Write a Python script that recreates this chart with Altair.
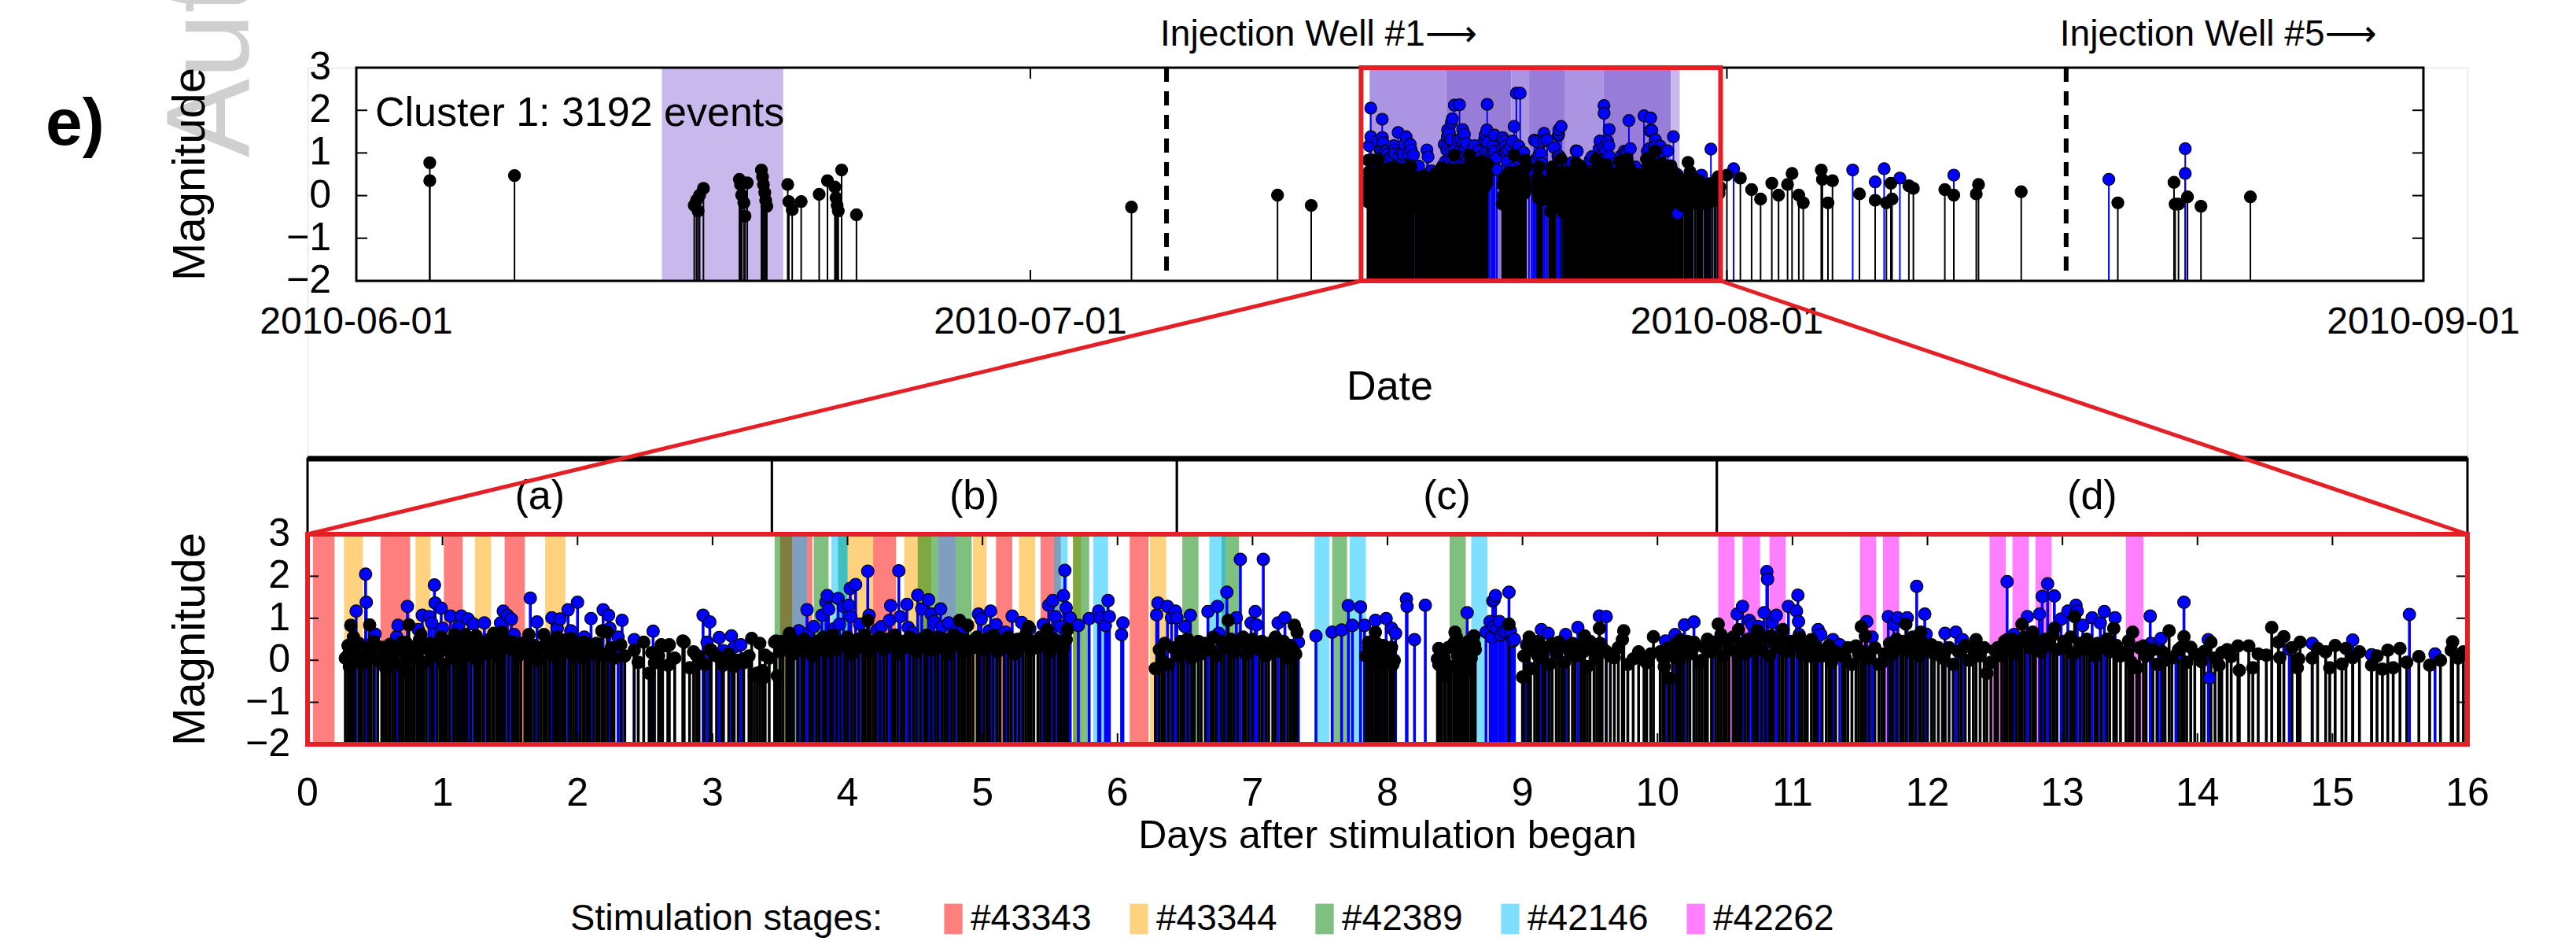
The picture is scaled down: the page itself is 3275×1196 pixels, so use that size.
import altair as alt
import pandas as pd

# ------------------------------------------------------------------ data
TOP_DATE_LABELS = ["2010-06-01", "2010-07-01", "2010-08-01", "2010-09-01"]
STIM_START_DAY = 44.72          # stimulation start, in days after 2010-06-01
ZOOM_SPAN_DAYS = 16
MAG_TICKS = [3, 2, 1, 0, -1, -2]
DAY_TICKS = list(range(0, 17))
CLUSTER_LABEL = "Cluster 1: 3192 events"
WELL_LABELS = ["Injection Well #1\u27f6", "Injection Well #5\u27f6"]
WELL_DAYS = [36.06, 76.10]
TOP_SHADE_START = [13.6, 45.1, 48.5, 51.4, 52.2, 53.8, 55.5, 58.5]
TOP_SHADE_END = [19.0, 48.5, 51.4, 52.2, 53.8, 55.5, 58.5, 58.9]
TOP_SHADE_LEVEL = ["light", "medium", "dark", "medium", "dark", "medium", "dark", "light"]
SEGMENT_LABELS = ["(a)", "(b)", "(c)", "(d)"]
SEGMENT_EDGES = [0, 3.44, 6.44, 10.44, 16]
STAGES = ["#43343", "#43344", "#42389", "#42146", "#42262"]
STAGE_PERIODS = [
    [(0.04, 0.20), (0.54, 0.76), (1.01, 1.15), (1.46, 1.61), (3.50, 3.74), (4.19, 4.36),
     (4.67, 4.80), (5.10, 5.22), (5.43, 5.58), (6.09, 6.23)],
    [(0.27, 0.41), (0.80, 0.91), (1.24, 1.36), (1.76, 1.91), (4.00, 4.19), (4.42, 4.62),
     (4.93, 5.03), (5.27, 5.39), (5.67, 5.73), (6.24, 6.36)],
    [(3.46, 3.59), (3.75, 3.86), (3.93, 4.00), (4.52, 4.67), (4.80, 4.92), (5.67, 5.79),
     (6.48, 6.60), (6.77, 6.90), (7.59, 7.70), (8.46, 8.58)],
    [(3.59, 3.70), (3.88, 4.00), (4.67, 4.80), (5.53, 5.63), (5.82, 5.93), (6.68, 6.80),
     (7.46, 7.57), (7.72, 7.84), (8.62, 8.74)],
    [(10.45, 10.57), (10.63, 10.76), (10.83, 10.95), (11.50, 11.62), (11.67, 11.79),
     (12.46, 12.58), (12.63, 12.75), (12.80, 12.92), (13.47, 13.60)],
]
LEGEND_TITLE = "Stimulation stages:"
X_TITLE_TOP = "Date"
X_TITLE_BOTTOM = "Days after stimulation began"
Y_TITLE = "Magnitude"
PANEL_TAG = "e)"
WATERMARK = "Author Manuscript"

# events (days after stimulation began, magnitude)
BLUE_EVENTS = [
    (0.36, 1.17), (0.43, 2.05), (0.435, 1.38), (0.50, 0.62), (0.66, 0.56), (0.67, 0.83), (0.74, 1.28),
    (0.82, 0.73), (0.85, 1.07), (0.90, 1.04), (0.92, 0.89), (0.94, 1.79), (0.945, 1.36), (0.99, 1.24),
    (1.00, 0.76), (1.06, 1.05), (1.12, 0.80), (1.14, 1.05), (1.19, 0.98), (1.23, 0.86), (1.31, 0.89),
    (1.43, 0.89), (1.45, 1.17), (1.48, 1.07), (1.51, 0.98), (1.53, 0.61), (1.65, 1.48), (1.70, 0.91),
    (1.81, 1.01), (1.85, 0.76), (1.87, 0.98), (1.93, 1.20), (1.95, 0.70), (2.00, 1.38), (2.05, 0.55),
    (2.10, 0.99), (2.19, 1.20), (2.23, 1.07), (2.24, 0.76), (2.30, 0.55), (2.33, 0.95), (2.42, 0.49),
    (2.56, 0.69), (2.93, 1.07), (2.96, 0.43), (2.98, 0.91), (3.05, 0.54), (3.08, 0.23), (3.14, 0.58),
    (3.16, 0.31),
    (3.21, 0.37), (3.64, 0.70), (3.70, 1.20), (3.71, 0.64), (3.75, 0.80), (3.81, 1.07), (3.84, 1.38),
    (3.85, 1.54), (3.86, 1.21), (3.90, 0.75), (3.93, 1.47), (3.94, 0.86), (3.97, 1.28), (4.01, 1.31),
    (4.02, 1.71), (4.025, 1.04), (4.06, 1.80), (4.09, 0.86), (4.15, 2.12), (4.16, 1.07), (4.22, 0.72),
    (4.25, 0.80), (4.31, 0.95), (4.32, 1.30), (4.38, 2.13), (4.39, 1.04), (4.44, 1.33), (4.45, 0.78),
    (4.48, 0.66), (4.52, 1.55), (4.55, 1.22), (4.60, 1.44), (4.62, 1.10), (4.64, 0.92), (4.69, 1.22),
    (4.70, 0.80), (4.75, 0.89), (4.80, 0.68), (4.85, 0.72), (4.97, 1.10), (4.99, 0.98), (5.05, 0.70),
    (5.06, 1.17), (5.10, 0.85), (5.17, 0.67), (5.22, 1.05), (5.25, 0.49), (5.29, 0.90), (5.35, 0.75),
    (5.45, 0.85), (5.49, 1.31), (5.52, 1.42), (5.54, 1.04), (5.58, 0.80), (5.60, 1.54), (5.61, 2.14),
    (5.62, 1.25), (5.65, 1.01), (5.71, 0.83), (5.79, 0.99), (5.86, 1.17), (5.87, 1.01), (5.91, 0.83),
    (5.93, 1.42), (5.94, 1.04), (6.03, 0.61), (6.04, 0.89), (6.29, 1.08), (6.30, 1.36), (6.37, 1.28),
    (6.40, 1.01),
    (6.43, 1.17), (6.44, 1.01), (6.50, 0.80), (6.54, 1.07), (6.67, 1.16), (6.74, 1.28), (6.75, 0.64),
    (6.81, 1.62), (6.88, 1.01), (6.91, 2.40), (6.99, 0.89), (7.02, 1.16), (7.03, 0.84), (7.08, 2.40),
    (7.19, 0.89), (7.24, 1.01), (7.34, 0.43), (7.47, 0.58), (7.59, 0.67), (7.66, 0.72), (7.71, 1.30),
    (7.74, 0.83), (7.80, 1.27), (7.83, 0.83), (7.91, 0.95), (7.99, 0.99), (8.03, 0.76), (8.06, 0.64),
    (8.14, 1.46), (8.145, 1.28), (8.20, 0.49), (8.28, 1.31), (8.59, 1.13), (8.73, 0.67), (8.76, 0.92),
    (8.77, 0.55), (8.78, 1.41), (8.785, 0.80), (8.79, 1.44), (8.80, 1.54), (8.81, 0.75), (8.83, 0.92),
    (8.84, 0.60), (8.86, 0.67), (8.88, 0.70), (8.90, 1.62), (8.91, 0.70), (8.93, 0.46), (8.94, 0.50),
    (9.03, 0.37), (9.14, 0.73), (9.19, 0.64), (9.32, 0.61), (9.41, 0.78), (9.57, 1.05),
    (9.62, 1.04), (10.06, 0.46), (10.13, 0.61), (10.20, 0.84), (10.27, 0.91), (10.41, 0.43),
    (10.59, 1.10), (10.63, 1.28), (10.68, 0.95), (10.70, 0.85), (10.75, 0.80), (10.79, 1.13),
    (10.81, 2.11), (10.815, 1.93), (10.85, 0.90), (10.88, 1.07), (10.97, 1.28), (11.03, 1.17),
    (11.04, 1.55), (11.045, 0.92), (11.05, 0.61), (11.19, 0.73), (11.21, 0.61), (11.30, 0.49),
    (11.35, 0.37), (11.55, 0.92), (11.59, 0.55), (11.71, 1.04), (11.75, 0.85), (11.78, 1.01),
    (11.85, 1.01), (11.92, 1.76), (11.98, 1.10), (11.99, 0.62), (12.13, 0.64), (12.21, 0.67),
    (12.26, 0.49), (12.59, 1.87), (12.64, 0.61), (12.74, 1.04),
    (12.83, 1.10), (12.85, 1.52), (12.89, 1.82), (12.94, 1.53), (12.99, 0.98), (13.04, 1.17),
    (13.10, 1.31), (13.11, 1.17), (13.15, 0.83), (13.22, 1.01), (13.28, 0.89), (13.31, 1.16),
    (13.39, 1.01), (13.65, 1.05), (13.655, 0.40), (13.71, 0.37), (13.73, 0.52), (13.84, 0.12),
    (13.90, 1.38), (14.08, 0.49), (14.09, -0.42), (14.68, 0.26), (14.85, 0.40), (15.15, 0.48),
    (15.29, 0.13), (15.57, 1.09), (15.76, 0.15),
]

BLACK_EVENTS = [
    # days 0 - 3.5
    (0.28, 0.05), (0.30, 0.12), (0.30, 0.35), (0.31, 0.28), (0.31, -0.15), (0.32, 0.83), (0.33, -0.10),
    (0.34, 0.55), (0.35, 0.20), (0.38, 0.40), (0.40, 0.10), (0.42, -0.05), (0.45, 0.30), (0.46, 0.84),
    (0.47, 0.15), (0.49, 0.45), (0.52, 0.00), (0.55, 0.31), (0.56, 0.25), (0.58, 0.00), (0.58, -0.20),
    (0.60, 0.31), (0.61, 0.38), (0.63, 0.10), (0.65, 0.30), (0.68, -0.10), (0.70, 0.43), (0.70, -0.12),
    (0.71, 0.20), (0.73, 0.42), (0.75, 0.84), (0.75, -0.31), (0.77, 0.05), (0.79, 0.32), (0.81, 0.15),
    (0.83, 0.50), (0.84, 0.61), (0.86, -0.05), (0.88, 0.28), (0.91, 0.40), (0.93, 0.10), (0.96, 0.35),
    (0.98, 0.20), (0.99, 0.55), (1.01, -0.10), (1.03, 0.45), (1.05, 0.30), (1.08, 0.05), (1.09, 0.61),
    (1.11, 0.38), (1.13, 0.22), (1.15, 0.48), (1.17, 0.61), (1.18, 0.10), (1.21, 0.35), (1.24, 0.25),
    (1.25, 0.58), (1.26, 0.00), (1.28, 0.42), (1.30, 0.30), (1.33, 0.15), (1.35, 0.50), (1.37, 0.20),
    (1.38, 0.64), (1.40, 0.38), (1.42, 0.05), (1.44, 0.67), (1.46, 0.30), (1.49, 0.45), (1.52, 0.43),
    (1.54, 0.20), (1.56, 0.10), (1.58, 0.40), (1.61, 0.28), (1.63, 0.48), (1.64, 0.61), (1.66, 0.15),
    (1.68, 0.35), (1.71, 0.00), (1.73, 0.30), (1.75, 0.61), (1.77, 0.45), (1.79, 0.22), (1.82, 0.10),
    (1.84, 0.40), (1.85, 0.55), (1.87, 0.30), (1.89, 0.48), (1.91, 0.20), (1.94, 0.35), (1.95, 0.52),
    (1.97, 0.10), (1.99, 0.42), (2.02, 0.25), (2.04, 0.05), (2.05, 0.43), (2.07, 0.38), (2.09, 0.30),
    (2.12, 0.15), (2.14, 0.40), (2.16, 0.20), (2.18, 0.70), (2.20, 0.10), (2.22, 0.67), (2.25, 0.30),
    (2.27, 0.05), (2.32, 0.37), (2.35, 0.10), (2.42, 0.24), (2.45, -0.05), (2.49, 0.43), (2.53, -0.31),
    (2.55, 0.18), (2.57, -0.06), (2.60, 0.10), (2.62, 0.37), (2.63, 0.34), (2.67, 0.34), (2.67, -0.12),
    (2.68, 0.37), (2.72, 0.05), (2.78, 0.46), (2.79, 0.43), (2.83, -0.18), (2.86, 0.20), (2.88, 0.12),
    (2.90, 0.09), (2.94, -0.10), (2.98, 0.25), (2.99, 0.24), (3.03, 0.10), (3.07, -0.06), (3.08, -0.12),
    (3.12, 0.15), (3.15, -0.06), (3.16, -0.15), (3.19, 0.00), (3.23, 0.03), (3.23, -0.06), (3.27, 0.10),
    (3.29, 0.52), (3.31, -0.37), (3.33, -0.31), (3.35, 0.40), (3.37, -0.25), (3.37, -0.43), (3.39, 0.12),
    (3.42, 0.05), (3.46, 0.43), (3.47, 0.46), (3.48, -0.37),
    # days 3.5 - 6.4
    (3.50, 0.20), (3.52, 0.45), (3.55, 0.30), (3.57, 0.64), (3.58, 0.55), (3.60, 0.15), (3.63, 0.40),
    (3.66, 0.25), (3.68, 0.50), (3.72, 0.35), (3.74, 0.10), (3.77, 0.45), (3.79, 0.30), (3.82, 0.55),
    (3.84, 0.20), (3.87, 0.40), (3.89, 0.60), (3.92, 0.25), (3.95, 0.45), (3.98, 0.35), (4.00, 0.55),
    (4.03, 0.15), (4.05, 0.40), (4.08, 0.50), (4.11, 0.30), (4.13, 0.60), (4.15, 0.95), (4.17, 0.20),
    (4.19, 0.45), (4.21, 0.35), (4.24, 0.55), (4.27, 0.25), (4.29, 0.50), (4.33, 0.40), (4.35, 0.60),
    (4.37, 0.15), (4.40, 0.45), (4.42, 0.30), (4.46, 0.55), (4.49, 0.40), (4.51, 0.20), (4.54, 0.50),
    (4.57, 0.35), (4.59, 0.60), (4.62, 0.25), (4.65, 0.45), (4.67, 0.55), (4.70, 0.30), (4.72, 0.50),
    (4.74, 0.15), (4.77, 0.40), (4.79, 0.60), (4.82, 0.35), (4.83, 0.95), (4.85, 0.50), (4.87, 0.20),
    (4.89, 0.83), (4.91, 0.45), (4.93, 0.30), (4.96, 0.55), (4.98, 0.40), (5.01, 0.25), (5.03, 0.50),
    (5.05, 0.35), (5.08, 0.60), (5.11, 0.20), (5.13, 0.45), (5.16, 0.30), (5.19, 0.55), (5.21, 0.40),
    (5.24, 0.15), (5.27, 0.50), (5.30, 0.35), (5.32, 0.60), (5.34, 0.80), (5.36, 0.25), (5.38, 0.45),
    (5.41, 0.30), (5.43, 0.55), (5.46, 0.40), (5.48, 0.73), (5.50, 0.20), (5.53, 0.50), (5.56, 0.35),
    (5.58, 0.45), (5.60, 0.30), (5.62, 0.49), (5.63, 0.73),
    # days 6.3 - 9.0
    (6.28, -0.20), (6.31, 0.25), (6.33, 0.00), (6.35, 0.40), (6.38, -0.10), (6.41, 0.30), (6.45, 0.10),
    (6.47, 0.45), (6.49, 0.20), (6.52, 0.50), (6.55, 0.05), (6.57, 0.35), (6.60, 0.45), (6.62, 0.15),
    (6.65, 0.40), (6.69, 0.25), (6.71, 0.55), (6.73, 0.10), (6.77, 0.45), (6.79, 0.30), (6.82, 0.95),
    (6.84, 0.50), (6.86, 0.20), (6.89, 0.40), (6.93, 0.55), (6.95, 0.15), (6.97, 0.35), (7.00, 0.50),
    (7.05, 0.25), (7.07, 0.45), (7.10, 0.10), (7.12, 0.40), (7.15, 0.30), (7.17, 0.55), (7.21, 0.20),
    (7.23, 0.45), (7.26, 0.05), (7.28, 0.35), (7.30, 0.25), (7.31, 0.83), (7.32, 0.15), (7.33, 0.67),
    (7.84, 0.10), (7.86, 0.43), (7.86, 0.30), (7.88, 0.18), (7.89, -0.05), (7.91, 0.67), (7.92, 0.40),
    (7.94, -0.06), (7.95, 0.15), (7.97, 0.35), (7.98, 0.24), (8.00, 0.05), (8.02, 0.25), (8.03, 0.31),
    (8.04, -0.10), (8.05, 0.00),
    (8.37, 0.03), (8.38, 0.28), (8.38, -0.10), (8.40, 0.20), (8.42, 0.05), (8.43, -0.37), (8.45, 0.30),
    (8.47, -0.15), (8.49, 0.40), (8.50, 0.67), (8.51, 0.55), (8.52, 0.10), (8.54, 0.06), (8.55, 0.35),
    (8.57, 0.20), (8.58, -0.06), (8.59, -0.28), (8.60, 0.45), (8.62, 0.05), (8.64, 0.58), (8.645, 0.37),
    (8.65, 0.25), (8.90, 0.86),
    # days 9.0 - 12.8
    (9.00, -0.40), (9.01, 0.10), (9.04, 0.35), (9.05, 0.55), (9.06, -0.20), (9.09, 0.25), (9.11, 0.12),
    (9.12, 0.45), (9.15, 0.05), (9.17, 0.30), (9.20, -0.10), (9.22, 0.40), (9.25, 0.15), (9.27, 0.43),
    (9.29, 0.30), (9.31, -0.05), (9.34, 0.25), (9.37, 0.40), (9.39, 0.10), (9.43, 0.35), (9.45, 0.20),
    (9.46, 0.58), (9.48, -0.15), (9.50, 0.45), (9.53, 0.25), (9.55, 0.05), (9.57, 0.76), (9.575, 0.40),
    (9.59, 0.30), (9.62, 0.21), (9.65, 0.10), (9.68, 0.06), (9.71, 0.30), (9.74, 0.49), (9.75, 0.70),
    (9.78, -0.10), (9.82, 0.03), (9.86, 0.20), (9.90, 0.00), (9.92, -0.06), (9.95, 0.15), (9.97, 0.56),
    (10.02, 0.20), (10.04, 0.06), (10.05, -0.15), (10.08, 0.30), (10.09, -0.43), (10.11, 0.10),
    (10.14, 0.40), (10.16, 0.00), (10.17, 0.49), (10.19, 0.25), (10.22, 0.45), (10.24, 0.15),
    (10.27, 0.43), (10.29, 0.35), (10.31, -0.05), (10.33, 0.00), (10.35, 0.30), (10.37, 0.50),
    (10.40, 0.20), (10.43, 0.40), (10.45, 0.86), (10.47, 0.61), (10.49, 0.10), (10.51, 0.45),
    (10.53, 0.30), (10.56, 0.55), (10.58, 0.20), (10.60, 0.73), (10.62, 0.40), (10.65, 0.15),
    (10.67, 0.50), (10.71, 0.30), (10.73, 0.45), (10.74, 0.70), (10.77, 0.25), (10.80, 0.55),
    (10.83, 0.10), (10.84, 0.58), (10.86, 0.40), (10.90, 0.30), (10.92, 0.50), (10.93, 0.73),
    (10.95, 0.20), (10.99, 0.45), (11.01, 0.35), (11.05, 0.55), (11.07, 0.15), (11.09, 0.40),
    (11.11, 0.25), (11.14, 0.49), (11.16, 0.05), (11.18, 0.30), (11.22, 0.10), (11.25, 0.24),
    (11.27, 0.35), (11.29, -0.05), (11.32, 0.20), (11.37, 0.10), (11.39, 0.06), (11.41, 0.30),
    (11.44, -0.10), (11.47, 0.34), (11.49, 0.15), (11.51, 0.80), (11.53, 0.20), (11.54, 0.58),
    (11.57, 0.05), (11.61, 0.30), (11.64, -0.10), (11.66, -0.06), (11.68, 0.15), (11.72, 0.40),
    (11.74, 0.15), (11.77, 0.50), (11.80, 0.30), (11.82, 0.45), (11.84, 0.86), (11.87, 0.20),
    (11.89, 0.55), (11.91, 0.35), (11.94, 0.10), (11.95, 0.67), (11.97, 0.40), (12.00, 0.25),
    (12.03, 0.37), (12.05, 0.15), (12.08, 0.30), (12.11, 0.05), (12.13, 0.21), (12.16, 0.30),
    (12.19, -0.10), (12.23, 0.20), (12.25, 0.24), (12.28, 0.35), (12.31, 0.00), (12.34, 0.25),
    (12.36, 0.49), (12.39, 0.10), (12.42, 0.30), (12.44, -0.31), (12.47, -0.05), (12.50, 0.24),
    (12.52, 0.30), (12.55, 0.10), (12.57, 0.45), (12.59, 0.49), (12.61, 0.25), (12.63, 0.50),
    (12.66, 0.15), (12.68, 0.40), (12.70, 0.86), (12.72, 0.55), (12.76, 0.30), (12.78, 0.67),
    (12.80, 0.45),
    # days 12.8 - 16
    (12.84, 0.20), (12.87, 0.50), (12.91, 0.35), (12.93, 0.60), (12.94, 0.76), (12.96, 0.25),
    (13.01, 0.45), (13.03, 0.30), (13.06, 0.55), (13.08, 0.15), (13.09, 1.04), (13.13, 0.40),
    (13.16, 0.25), (13.18, 0.50), (13.20, 0.35), (13.24, 0.10), (13.26, 0.40), (13.29, 0.30),
    (13.33, 0.50), (13.35, 0.20), (13.38, 0.76), (13.40, 0.35), (13.43, 0.10), (13.47, 0.20),
    (13.49, 0.46), (13.51, -0.05), (13.52, 0.67), (13.55, -0.18), (13.57, 0.30), (13.60, 0.34),
    (13.62, 0.10), (13.67, 0.25), (13.70, -0.10), (13.74, 0.20), (13.76, 0.00), (13.79, 0.70),
    (13.81, 0.05), (13.86, 0.25), (13.88, 0.31), (13.90, 0.56), (13.92, -0.05), (13.95, 0.31),
    (13.98, 0.15), (14.03, -0.03), (14.05, 0.21), (14.10, 0.43), (14.13, 0.05), (14.16, -0.12),
    (14.18, 0.18), (14.22, 0.25), (14.25, 0.09), (14.30, 0.34), (14.31, -0.24), (14.38, 0.34),
    (14.41, -0.18), (14.45, 0.15), (14.51, 0.12), (14.55, 0.78), (14.60, 0.43), (14.61, 0.06),
    (14.64, 0.56), (14.70, 0.30), (14.74, -0.18), (14.75, 0.03), (14.76, 0.43), (14.85, 0.05),
    (14.89, 0.28), (14.95, 0.20), (14.98, -0.18), (15.02, 0.35), (15.07, -0.09), (15.10, 0.28),
    (15.15, 0.06), (15.20, 0.20), (15.29, -0.12), (15.33, 0.10), (15.37, -0.21), (15.41, 0.24),
    (15.45, -0.18), (15.50, 0.28), (15.55, -0.05), (15.64, 0.09), (15.72, -0.12), (15.80, 0.00),
    (15.88, 0.24), (15.89, 0.44), (15.93, 0.05), (15.97, 0.20),
]

# events outside the zoom window (days after 2010-06-01, magnitude)
TOP_ONLY_BLACK = [
    (3.27, 0.77), (3.27, 0.35), (7.04, 0.47), (15.04, -0.23), (15.14, -0.11), (15.21, -0.36),
    (15.28, 0.01), (15.45, 0.17), (17.05, 0.38), (17.10, 0.26), (17.15, 0.01), (17.25, -0.17),
    (17.30, -0.48), (17.40, 0.30), (18.03, 0.60), (18.08, 0.44), (18.12, 0.26), (18.18, 0.07),
    (18.22, -0.11), (18.27, -0.25), (19.20, 0.26), (19.25, -0.14), (19.40, -0.33), (19.80, -0.14),
    (20.60, 0.03), (20.97, 0.35), (21.30, 0.20), (21.35, -0.05), (21.40, -0.23), (21.45, -0.36),
    (21.60, 0.60), (22.26, -0.45), (34.50, -0.27), (41.00, 0.01), (42.50, -0.23),
    (61.0, 0.48), (61.6, 0.41), (62.1, 0.14), (62.5, -0.08), (63.0, 0.29), (63.3, 0.01), (63.7, 0.26),
    (63.9, 0.52), (64.2, 0.01), (64.4, -0.17), (65.2, 0.60), (65.25, 0.38), (65.5, -0.17), (65.7, 0.35),
    (66.9, 0.04), (67.6, -0.11), (68.1, -0.17), (68.3, 0.29), (68.35, -0.08), (69.1, 0.23), (69.3, 0.17),
    (70.7, 0.14), (71.1, 0.01), (72.1, 0.04), (72.2, 0.26), (74.1, 0.09), (78.4, -0.17), (80.9, 0.31),
    (80.95, -0.20), (81.1, -0.20), (81.5, -0.03), (82.1, -0.25), (84.3, -0.03),
]
TOP_ONLY_BLUE = [
    (61.3, 0.63), (66.6, 0.60), (67.6, 0.32), (68.0, 0.63), (68.7, 0.41), (71.1, 0.48), (78.0, 0.38),
    (81.4, 1.10), (81.4, 0.52),
]

# ------------------------------------------------------------------ style / layout
STAGE_COLORS = ["#ff0000", "#ffa500", "#008000", "#00bfff", "#ff00ff"]
SHADE_LEVELS = ["light", "medium", "dark"]
SHADE_COLORS = ["#c8b8ec", "#ab95e2", "#977cd8"]
RED = "#e41f26"
FONT = "Liberation Sans, Arial, sans-serif"
ARROW_FONT = "Liberation Sans, DejaVu Sans, sans-serif"
W, H = 2746, 860                    # plot region (both panels)
TX0, TX1, TY0, TY1 = 62, 2690, 0, 271
BY0, BY1 = 593, 860
HDR_TOP = 497
TICK = 14

origin = pd.Timestamp(TOP_DATE_LABELS[0])
top_tick_days = [(pd.Timestamp(s) - origin).days for s in TOP_DATE_LABELS]
TOP_SPAN = float(top_tick_days[-1])

TOP_X = alt.Scale(domain=[0, TOP_SPAN], range=[TX0, TX1], nice=False, zero=False)
TOP_Y = alt.Scale(domain=[-2, 3], range=[TY1, TY0], nice=False, zero=False)
BOT_X = alt.Scale(domain=[0, ZOOM_SPAN_DAYS], range=[0, W], nice=False, zero=False)
BOT_Y = alt.Scale(domain=[-2, 3], range=[BY1, BY0], nice=False, zero=False)
LEG_X = alt.Scale(domain=[0, len(STAGES) - 1], range=[821, 1765], nice=False, zero=False)
CLS = alt.Scale(domain=["black", "blue"], range=["#000000", "#0000ff"])


def qx(f, s):
    return alt.X(f"{f}:Q", scale=s, axis=None)


def qy(f, s):
    return alt.Y(f"{f}:Q", scale=s, axis=None)


def minus(v):
    return str(v).replace("-", "\u2212")


# ------------------------------------------------------------------ frames
ev = pd.DataFrame([(d, m, "blue") for d, m in BLUE_EVENTS] + [(d, m, "black") for d, m in BLACK_EVENTS],
                  columns=["day", "mag", "cls"])
ev["floor"] = -2.0
top_ev = pd.concat([
    pd.DataFrame({"tday": ev["day"] + STIM_START_DAY, "mag": ev["mag"], "cls": ev["cls"]}),
    pd.DataFrame([(d, m, "black") for d, m in TOP_ONLY_BLACK], columns=["tday", "mag", "cls"]),
    pd.DataFrame([(d, m, "blue") for d, m in TOP_ONLY_BLUE], columns=["tday", "mag", "cls"]),
])
top_ev["floor"] = -2.0
# draw blue events first so that the dense black stems sit on top of them
ev = ev.sort_values(["cls", "day"], ascending=[False, True], kind="stable")
top_ev = top_ev.sort_values(["cls", "tday"], ascending=[False, True], kind="stable")

shade = pd.DataFrame({"s": TOP_SHADE_START, "e": TOP_SHADE_END, "lvl": TOP_SHADE_LEVEL})
wells = pd.DataFrame({"day": WELL_DAYS, "label": WELL_LABELS})
bands = pd.DataFrame([(st, a, b) for st, per in zip(STAGES, STAGE_PERIODS) for a, b in per],
                     columns=["stage", "s", "e"])
segs = pd.DataFrame({"s": SEGMENT_EDGES[:-1], "e": SEGMENT_EDGES[1:], "label": SEGMENT_LABELS})
segs["mid"] = (segs["s"] + segs["e"]) / 2
top_xt = pd.DataFrame({"day": top_tick_days, "label": TOP_DATE_LABELS})
mag_t = pd.DataFrame({"mag": MAG_TICKS, "label": [minus(v) for v in MAG_TICKS]})
mag_inner = pd.DataFrame({"mag": MAG_TICKS[1:-1]})
day_t = pd.DataFrame({"day": DAY_TICKS, "label": [str(v) for v in DAY_TICKS]})
day_inner = pd.DataFrame({"day": DAY_TICKS[1:-1]})
top_inner_x = pd.DataFrame({"day": top_tick_days[1:-1]})
top_frame = pd.DataFrame({"x0": [0.0], "x1": [TOP_SPAN], "y0": [-2], "y1": [3]})
zoom_box = pd.DataFrame({"x0": [STIM_START_DAY], "x1": [STIM_START_DAY + ZOOM_SPAN_DAYS], "y0": [-2], "y1": [3]})
bot_frame = pd.DataFrame({"x0": [0.0], "x1": [float(ZOOM_SPAN_DAYS)], "y0": [-2], "y1": [3]})
legend = pd.DataFrame({"i": list(range(len(STAGES))), "stage": STAGES})
one = pd.DataFrame({"k": [0]})


def text_layer(txt, x, y, size, align="center", baseline="alphabetic", angle=0, weight="normal",
               color="black", font=FONT):
    return alt.Chart(one).mark_text(text=txt, font=font, fontSize=size, align=align, baseline=baseline,
                                    angle=angle, fontWeight=weight, color=color).encode(
        x=alt.value(x), y=alt.value(y))


def stems(df, xf, xs, ys, width):
    return alt.Chart(df).mark_rule(strokeWidth=width, opacity=1).encode(
        x=qx(xf, xs), y=qy("mag", ys), y2="floor:Q",
        color=alt.Color("cls:N", scale=CLS, legend=None))


def heads(df, xf, xs, ys, size):
    return alt.Chart(df).mark_point(filled=True, size=size, stroke="black", strokeWidth=1.2, opacity=1).encode(
        x=qx(xf, xs), y=qy("mag", ys), fill=alt.Fill("cls:N", scale=CLS, legend=None))


layers = []
# watermark & panel tag
layers.append(text_layer(WATERMARK, -75, 114, 150, align="left", angle=270, color="#cfcfcf"))
layers.append(text_layer(PANEL_TAG, -333, 98, 84, align="left", weight="bold"))

# ---- top panel
layers.append(alt.Chart(shade).mark_rect(opacity=1).encode(
    x=qx("s", TOP_X), x2="e", y=alt.value(TY0), y2=alt.value(TY1),
    fill=alt.Fill("lvl:N", scale=alt.Scale(domain=SHADE_LEVELS, range=SHADE_COLORS), legend=None)))
layers.append(alt.Chart(wells).mark_rule(strokeDash=[18, 12], strokeWidth=6, color="black").encode(
    x=qx("day", TOP_X), y=alt.value(TY0), y2=alt.value(TY1)))
layers.append(stems(top_ev, "tday", TOP_X, TOP_Y, 2))
layers.append(heads(top_ev, "tday", TOP_X, TOP_Y, 230))
layers.append(alt.Chart(top_frame).mark_rect(fillOpacity=0, stroke="black", strokeWidth=3).encode(
    x=qx("x0", TOP_X), x2="x1", y=qy("y0", TOP_Y), y2="y1"))
layers.append(alt.Chart(mag_inner).mark_rule(strokeWidth=2, color="black").encode(
    y=qy("mag", TOP_Y), x=alt.value(TX0), x2=alt.value(TX0 + TICK)))
layers.append(alt.Chart(mag_inner).mark_rule(strokeWidth=2, color="black").encode(
    y=qy("mag", TOP_Y), x=alt.value(TX1 - TICK), x2=alt.value(TX1)))
layers.append(alt.Chart(top_inner_x).mark_rule(strokeWidth=2, color="black").encode(
    x=qx("day", TOP_X), y=alt.value(TY1 - TICK), y2=alt.value(TY1)))
layers.append(alt.Chart(top_inner_x).mark_rule(strokeWidth=2, color="black").encode(
    x=qx("day", TOP_X), y=alt.value(TY0), y2=alt.value(TY0 + TICK)))
layers.append(alt.Chart(zoom_box).mark_rect(fillOpacity=0, stroke=RED, strokeWidth=6).encode(
    x=qx("x0", TOP_X), x2="x1", y=qy("y0", TOP_Y), y2="y1"))
layers.append(alt.Chart(top_xt).mark_text(font=FONT, fontSize=48, baseline="alphabetic").encode(
    x=qx("day", TOP_X), y=alt.value(338), text="label:N"))
layers.append(alt.Chart(mag_t).mark_text(font=FONT, fontSize=50, align="right", baseline="middle").encode(
    y=qy("mag", TOP_Y), x=alt.value(TX0 - 32), text="label:N"))
layers.append(alt.Chart(wells).mark_text(font=ARROW_FONT, fontSize=46, align="left", dx=-8, baseline="alphabetic").encode(
    x=qx("day", TOP_X), y=alt.value(-28), text="label:N"))
layers.append(text_layer(CLUSTER_LABEL, TX0 + 24, 74, 52, align="left"))
layers.append(text_layer(X_TITLE_TOP, (TX0 + TX1) / 2, 422, 52))
layers.append(text_layer(Y_TITLE, -148, (TY0 + TY1) / 2, 58, baseline="middle", angle=270))

# ---- bottom panel
layers.append(alt.Chart(bands).mark_rect(opacity=0.5).encode(
    x=qx("s", BOT_X), x2="e", y=alt.value(BY0), y2=alt.value(BY1),
    fill=alt.Fill("stage:N", scale=alt.Scale(domain=STAGES, range=STAGE_COLORS), legend=None)))
layers.append(stems(ev, "day", BOT_X, BOT_Y, 3.6))
layers.append(heads(ev, "day", BOT_X, BOT_Y, 250))
layers.append(alt.Chart(mag_inner).mark_rule(strokeWidth=2, color="black").encode(
    y=qy("mag", BOT_Y), x=alt.value(0), x2=alt.value(TICK)))
layers.append(alt.Chart(mag_inner).mark_rule(strokeWidth=2, color="black").encode(
    y=qy("mag", BOT_Y), x=alt.value(W - TICK), x2=alt.value(W)))
layers.append(alt.Chart(day_inner).mark_rule(strokeWidth=2, color="black").encode(
    x=qx("day", BOT_X), y=alt.value(BY0), y2=alt.value(BY0 + TICK)))
layers.append(alt.Chart(day_inner).mark_rule(strokeWidth=2, color="black").encode(
    x=qx("day", BOT_X), y=alt.value(BY1 - TICK), y2=alt.value(BY1)))
layers.append(alt.Chart(segs).mark_rect(fill="white", stroke="black", strokeWidth=3).encode(
    x=qx("s", BOT_X), x2="e", y=alt.value(HDR_TOP), y2=alt.value(BY0)))
layers.append(alt.Chart(bot_frame).mark_rule(strokeWidth=7, color="black").encode(
    x=qx("x0", BOT_X), x2="x1", y=alt.value(HDR_TOP)))
layers.append(alt.Chart(segs).mark_text(font=FONT, fontSize=52, baseline="middle").encode(
    x=qx("mid", BOT_X), y=alt.value((HDR_TOP + BY0) / 2), text="label:N"))
layers.append(alt.Chart(bot_frame).mark_rect(fillOpacity=0, stroke=RED, strokeWidth=6).encode(
    x=qx("x0", BOT_X), x2="x1", y=qy("y0", BOT_Y), y2="y1"))
# connector lines from the zoom box to the lower panel
layers.append(alt.Chart(zoom_box).mark_rule(color=RED, strokeWidth=5).encode(
    x=qx("x0", TOP_X), y=alt.value(TY1), x2=alt.value(0), y2=alt.value(BY0)))
layers.append(alt.Chart(zoom_box).mark_rule(color=RED, strokeWidth=5).encode(
    x=qx("x1", TOP_X), y=alt.value(TY1), x2=alt.value(W), y2=alt.value(BY0)))
layers.append(alt.Chart(day_t).mark_text(font=FONT, fontSize=50, baseline="alphabetic").encode(
    x=qx("day", BOT_X), y=alt.value(938), text="label:N"))
layers.append(alt.Chart(mag_t).mark_text(font=FONT, fontSize=50, align="right", baseline="middle").encode(
    y=qy("mag", BOT_Y), x=alt.value(-22), text="label:N"))
layers.append(text_layer(X_TITLE_BOTTOM, W / 2, 992, 50))
layers.append(text_layer(Y_TITLE, -148, (BY0 + BY1) / 2, 58, baseline="middle", angle=270))

# ---- legend
layers.append(text_layer(LEGEND_TITLE, 731, 1082, 47, align="right", baseline="middle"))
layers.append(alt.Chart(legend).mark_point(shape="M-0.6,-1L0.6,-1L0.6,1L-0.6,1Z", size=1500, filled=True,
                                           opacity=0.5, strokeWidth=0).encode(
    x=qx("i", LEG_X), y=alt.value(1082),
    fill=alt.Fill("stage:N", scale=alt.Scale(domain=STAGES, range=STAGE_COLORS), legend=None)))
layers.append(alt.Chart(legend).mark_text(font=FONT, fontSize=46, align="left", dx=22, baseline="middle").encode(
    x=qx("i", LEG_X), y=alt.value(1082), text="stage:N"))

chart = alt.layer(*layers).resolve_scale(
    x="independent", y="independent", color="independent", fill="independent"
).properties(
    width=W, height=H,
    autosize=alt.AutoSizeParams(type="none"),
    padding={"left": 391, "top": 86, "right": 138, "bottom": 250},
).configure_view(strokeWidth=0).configure(background="white")

chart.save("out.html", embed_options={"renderer": "svg", "actions": False})
